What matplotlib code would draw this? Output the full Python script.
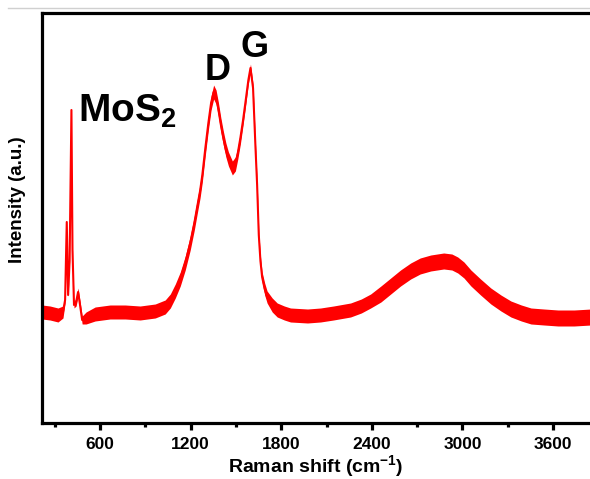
import numpy as np
import matplotlib
matplotlib.use('Agg')
import matplotlib.pyplot as plt
from matplotlib.lines import Line2D

plt.rcParams['font.family'] = ['Liberation Sans', 'DejaVu Sans']
plt.rcParams['mathtext.fontset'] = 'custom'
plt.rcParams['mathtext.rm'] = 'Liberation Sans:bold'
plt.rcParams['mathtext.it'] = 'Liberation Sans:bold'
plt.rcParams['mathtext.bf'] = 'Liberation Sans:bold'

# Raman spectrum (shift in cm-1, intensity in a.u.)
shift = [215, 268, 321, 354, 368, 379, 388, 398, 410, 417, 427, 441, 454, 467, 481,
         507, 567, 666, 766, 865, 965, 1031, 1065, 1098, 1131, 1164, 1197, 1224, 1244,
         1262, 1277, 1297, 1317, 1335, 1352, 1368, 1383, 1400, 1416, 1433, 1450, 1476,
         1496, 1512, 1529, 1546, 1562, 1582, 1596, 1613, 1629, 1640, 1651, 1662, 1673,
         1690, 1706, 1740, 1773, 1820, 1861, 1974, 2060, 2146, 2259, 2330, 2392, 2460,
         2525, 2590, 2657, 2720, 2790, 2876, 2930, 2969, 3010, 3056, 3120, 3188, 3255,
         3321, 3390, 3454, 3540, 3633, 3740, 3852]
intensity = [111, 110, 108, 111, 123, 201, 128, 163, 313, 173, 118, 121, 131, 118, 103,
             105, 109, 111, 111, 110, 112, 116, 122, 132, 144, 160, 180, 200, 217,
             232, 248, 275, 300, 320, 331, 326, 314, 298, 285, 273, 264, 255,
             259, 270, 285, 302, 320, 343, 355, 335, 276, 238, 188, 162, 146,
             134, 126, 118, 113, 110, 108, 107, 108, 110, 113, 117, 122, 129,
             137, 145, 152, 157, 160, 162, 161, 158, 153, 145, 136, 127, 120,
             114, 110, 107, 106, 105, 105, 106]
# half width of the noise band around the curve
spread = [7, 7, 7, 6, 3, 1, 2, 1, 0.5, 1, 3, 4, 4, 4, 4,
          6, 7, 7, 7, 7, 7, 7, 7, 7, 7, 7, 7, 7, 7,
          7, 7, 7, 7, 7, 7, 7, 7, 7, 7, 7, 7, 7,
          7, 6, 6, 5, 5, 4, 4, 4, 4, 4, 4, 5, 5,
          6, 6, 7, 7, 7, 7, 7, 7, 7, 7, 7, 7, 8,
          8, 8, 8, 8, 8, 8, 8, 8, 8, 8, 8, 8, 8,
          8, 8, 8, 8, 8, 8, 8]

x_ticks = [600, 1200, 1800, 2400, 3000, 3600]

x = np.array(shift)
y = np.array(intensity)
s = np.array(spread)

fig = plt.figure(figsize=(5.9, 4.79), dpi=100)
ax = fig.add_axes([42/590, 56/479, 548/590, 410/479])

ax.fill_between(x, y - s, y + s, color='#ff0000', lw=0)
ax.plot(x, y, color='#ff0000', lw=1.5)

ax.set_xlim(215, 3845)
ax.set_ylim(0, 410)

for side in ['left', 'bottom', 'top']:
    ax.spines[side].set_linewidth(2.3)
ax.spines['right'].set_visible(False)

ax.set_xticks(x_ticks)
ax.set_xticks([300, 900, 1500, 2100, 2700, 3300], minor=True)
ax.set_yticks([])
ax.tick_params(axis='x', which='major', direction='out', length=5, width=2.3,
               labelsize=12.5, pad=5)
ax.tick_params(axis='x', which='minor', direction='out', length=3, width=2.3)
for lab in ax.get_xticklabels():
    lab.set_fontweight('bold')

ax.set_xlabel('Raman shift (cm$^{-1}$)', fontsize=14, fontweight='bold', labelpad=1)
fig.text(18/590, 1 - 200/479, 'Intensity (a.u.)', rotation=90, ha='center', va='center',
         fontsize=13.5, fontweight='bold')

ax.text(454, 301, r'$\mathbf{MoS_2}$', fontsize=28, ha='left', va='baseline')
ax.text(1377, 343, 'D', fontsize=26, fontweight='bold', ha='center', va='baseline')
ax.text(1625, 366, 'G', fontsize=26, fontweight='bold', ha='center', va='baseline')

# faint grey line along the top of the screenshot
fig.add_artist(Line2D([8/590, 1], [1 - 8/479, 1 - 8/479], color='#d0d0d0', lw=1))

fig.savefig('out.png', dpi=100)
